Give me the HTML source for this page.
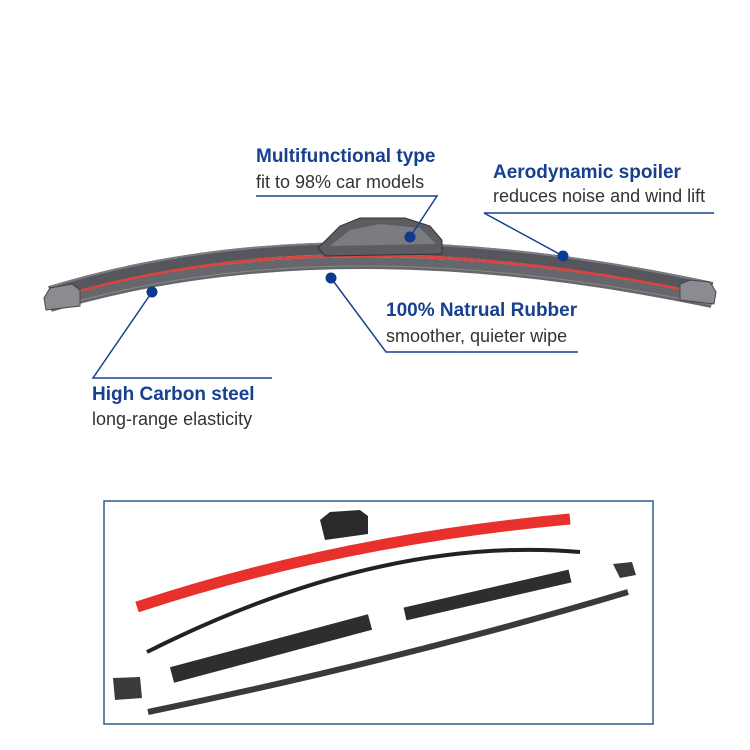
<!DOCTYPE html>
<html><head><meta charset="utf-8"><style>
html,body{margin:0;padding:0;background:#fff;}
svg{display:block;}
.t{font-family:"Liberation Sans",sans-serif;font-weight:bold;font-size:19px;fill:#17408f;}
.s{font-family:"Liberation Sans",sans-serif;font-size:18px;fill:#333;}
</style></head><body>
<svg width="750" height="750" viewBox="0 0 750 750" xmlns="http://www.w3.org/2000/svg">
<rect width="750" height="750" fill="#fff"/>
<g fill="none" stroke-linecap="butt">
  <path d="M50 306 Q330 222 712 302" stroke="#65676d" stroke-width="12"/>
  <path d="M50 299 Q330 214 712 295" stroke="#d9443f" stroke-width="3"/>
  <path d="M50 292 Q330 206 712 288" stroke="#55575d" stroke-width="12"/>
  <path d="M50 287 Q330 201 712 283" stroke="#7a7c82" stroke-width="2"/>
  <path d="M50 309 Q330 225 712 305" stroke="#888" stroke-width="1"/>
</g>
<path d="M44 298 L50 288 L72 284 L80 290 L80 306 L46 310 Z" fill="#8a8c92" stroke="#444" stroke-width="1"/>
<path d="M716 292 L710 282 L690 280 L680 284 L680 300 L714 304 Z" fill="#8a8c92" stroke="#444" stroke-width="1"/>
<path d="M318 248 L340 226 L360 218 L405 218 L430 226 L442 240 L442 254 L325 256 Z" fill="#5b5d63" stroke="#333" stroke-width="1"/>
<path d="M330 246 L350 230 L380 224 L420 228 L436 244 Z" fill="#7a7c82"/>
<g stroke="#17408f" stroke-width="1.5" fill="none">
  <path d="M256 196 H437 L410 237"/>
  <path d="M714 213 H484 L563 256"/>
  <path d="M578 352 H386 L331 278"/>
  <path d="M272 378 H93 L152 292"/>
</g>
<g fill="#0d3a8c">
  <circle cx="410" cy="237" r="5.5"/>
  <circle cx="563" cy="256" r="5.5"/>
  <circle cx="331" cy="278" r="5.5"/>
  <circle cx="152" cy="292" r="5.5"/>
</g>
<text class="t" x="256" y="162">Multifunctional type</text>
<text class="s" x="256" y="188">fit to 98% car models</text>
<text class="t" x="493" y="178">Aerodynamic spoiler</text>
<text class="s" x="493" y="202">reduces noise and wind lift</text>
<text class="t" x="386" y="316">100% Natrual Rubber</text>
<text class="s" x="386" y="342">smoother, quieter wipe</text>
<text class="t" x="92" y="400">High Carbon steel</text>
<text class="s" x="92" y="425">long-range elasticity</text>
<rect x="104" y="501" width="549" height="223" fill="#fff" stroke="#2d5b8c" stroke-width="1.5"/>
<path d="M137 607 Q340 540 570 519" stroke="#e8302c" stroke-width="11" fill="none"/>
<path d="M147 652 Q380 535 580 552" stroke="#222" stroke-width="4" fill="none"/>
<path d="M320 520 L330 512 L360 510 L368 516 L368 534 L325 540 Z" fill="#2a2a2c"/>
<path d="M172 675 L370 622" stroke="#2e2e30" stroke-width="16" fill="none"/>
<path d="M405 614 L570 576" stroke="#2e2e30" stroke-width="13" fill="none"/>
<path d="M148 712 Q400 660 628 592" stroke="#3a3a3c" stroke-width="6" fill="none"/>
<path d="M113 678 L140 677 L142 698 L115 700 Z" fill="#3a3a3c"/>
<path d="M613 564 L632 562 L636 575 L620 578 Z" fill="#3a3a3c"/>
</svg>
</body></html>
